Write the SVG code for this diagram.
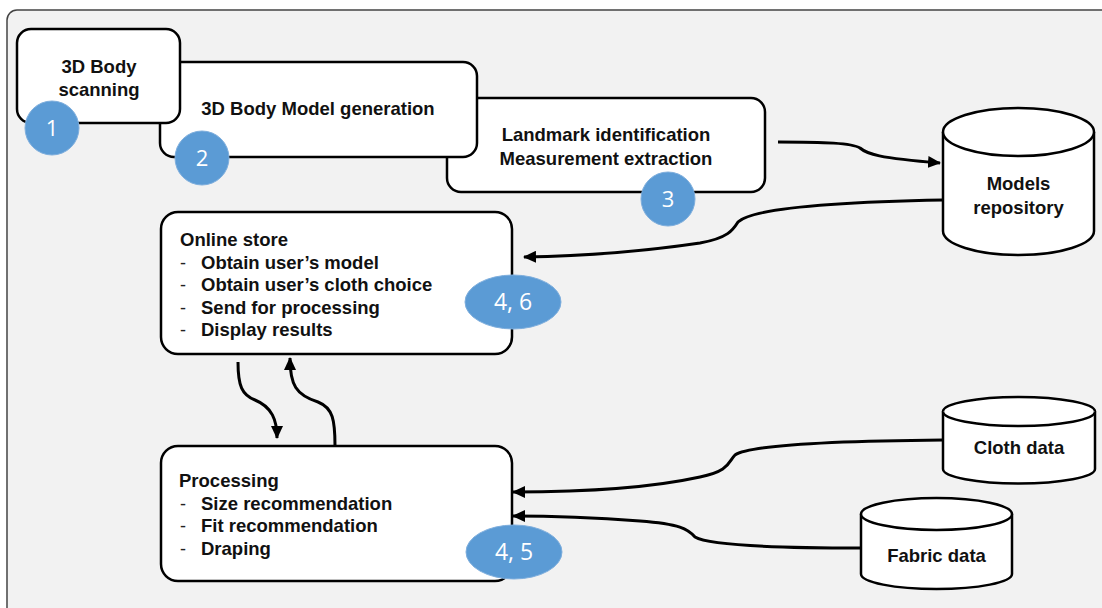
<svg xmlns="http://www.w3.org/2000/svg" width="1102" height="608" viewBox="0 0 1102 608">
<defs>
<style>
.box{fill:#fff;stroke:#000;stroke-width:2.5}
.cyl{fill:#fff;stroke:#000;stroke-width:2.5}
.t{font-family:"Liberation Sans",Arial,sans-serif;font-weight:bold;font-size:18.5px;fill:#111}
.d{font-family:"Liberation Sans",Arial,sans-serif;font-size:18px;fill:#222}
.c{text-anchor:middle}
.badge{fill:#5b9bd5;stroke:#7eaedd;stroke-width:1}
.bt{font-family:"Open Sans","Noto Sans",sans-serif;font-size:22px;fill:#fff;text-anchor:middle}
.bt2{font-family:"Open Sans","Noto Sans",sans-serif;font-size:23px;fill:#fff;text-anchor:middle}
.conn{fill:none;stroke:#000;stroke-width:3}
</style>
<marker id="ah" markerUnits="userSpaceOnUse" markerWidth="14" markerHeight="12" refX="12" refY="6" orient="auto">
<path d="M0,0 L13,6 L0,12 Z" fill="#000"/>
</marker>
</defs>
<rect x="7" y="10" width="1110" height="612" rx="10" fill="#f2f2f2" stroke="#444" stroke-width="1.5"/>

<g id="connectors">
<path class="conn" marker-end="url(#ah)" d="M778,142 C825,142 852,143 860,148 C867,154 878,158 940,163"/>
<path class="conn" marker-end="url(#ah)" d="M943,200 C840,202 752,208 738,222 C733,230 728,238 700,243 C640,252 580,256 524,257"/>
<path class="conn" marker-end="url(#ah)" d="M238,362 C238,386 242,395 255,400 C272,407 277,420 277,438"/>
<path class="conn" marker-end="url(#ah)" d="M335,446 C335,420 333,408 318,402 C296,395 290,385 290,358"/>
<path class="conn" marker-end="url(#ah)" d="M943,440 C830,441 750,445 735,455 C728,462 730,471 700,477 C650,488 580,492 513,492"/>
<path class="conn" marker-end="url(#ah)" d="M861,548 C780,548 710,546 695,537 C688,529 680,524 640,521 C600,518 560,516 513,516"/>
</g>

<g id="n3">
<rect class="box" x="447" y="98" width="318" height="94" rx="14"/>
<text class="t c" x="606" y="141">Landmark identification</text>
<text class="t c" x="606" y="165">Measurement extraction</text>
</g>
<g id="n2">
<rect class="box" x="160" y="62" width="317" height="95" rx="14"/>
<text class="t c" x="318" y="115">3D Body Model generation</text>
</g>
<g id="n1">
<rect class="box" x="17" y="29" width="163" height="94" rx="14"/>
<text class="t c" x="99" y="73">3D Body</text>
<text class="t c" x="99" y="96">scanning</text>
</g>

<g id="online-store">
<rect class="box" x="161" y="212" width="351" height="142" rx="17"/>
<text class="t" x="180" y="246">Online store</text>
<text class="d" x="180" y="268.5">-</text><text class="t" x="201" y="268.5">Obtain user’s model</text>
<text class="d" x="180" y="291">-</text><text class="t" x="201" y="291">Obtain user’s cloth choice</text>
<text class="d" x="180" y="313.5">-</text><text class="t" x="201" y="313.5">Send for processing</text>
<text class="d" x="180" y="336">-</text><text class="t" x="201" y="336">Display results</text>
</g>

<g id="processing">
<rect class="box" x="161" y="446" width="351" height="135" rx="17"/>
<text class="t" x="179" y="487">Processing</text>
<text class="d" x="180" y="509.5">-</text><text class="t" x="201" y="509.5">Size recommendation</text>
<text class="d" x="180" y="532">-</text><text class="t" x="201" y="532">Fit recommendation</text>
<text class="d" x="180" y="554.5">-</text><text class="t" x="201" y="554.5">Draping</text>
</g>

<g id="models-repository">
<path class="cyl" d="M943,132 A75.5,24 0 0 1 1094,132 L1094,231 A75.5,24 0 0 1 943,231 Z"/>
<path class="cyl" fill="none" d="M943,132 A75.5,24 0 0 0 1094,132"/>
<text class="t c" x="1018.5" y="190">Models</text>
<text class="t c" x="1018.5" y="214">repository</text>
</g>

<g id="cloth-data">
<path class="cyl" d="M943,411.5 A76,14.5 0 0 1 1095,411.5 L1095,469 A76,14.5 0 0 1 943,469 Z"/>
<path class="cyl" fill="none" d="M943,411.5 A76,14.5 0 0 0 1095,411.5"/>
<text class="t c" x="1019" y="453.5">Cloth data</text>
</g>

<g id="fabric-data">
<path class="cyl" d="M861,514 A75.5,16 0 0 1 1012,514 L1012,574 A75.5,15 0 0 1 861,574 Z"/>
<path class="cyl" fill="none" d="M861,514 A75.5,16 0 0 0 1012,514"/>
<text class="t c" x="936.5" y="561.5">Fabric data</text>
</g>

<g id="badge-1"><circle class="badge" cx="52" cy="128" r="27"/><text class="bt" x="52" y="136">1</text></g>
<g id="badge-2"><circle class="badge" cx="202" cy="158" r="27"/><text class="bt" x="202" y="166">2</text></g>
<g id="badge-3"><circle class="badge" cx="668" cy="199" r="27"/><text class="bt" x="668" y="207">3</text></g>
<g id="badge-46"><ellipse class="badge" cx="513" cy="302" rx="48" ry="27"/><text class="bt2" x="513" y="310">4, 6</text></g>
<g id="badge-45"><ellipse class="badge" cx="514" cy="552" rx="48" ry="27"/><text class="bt2" x="514" y="560">4, 5</text></g>
</svg>
